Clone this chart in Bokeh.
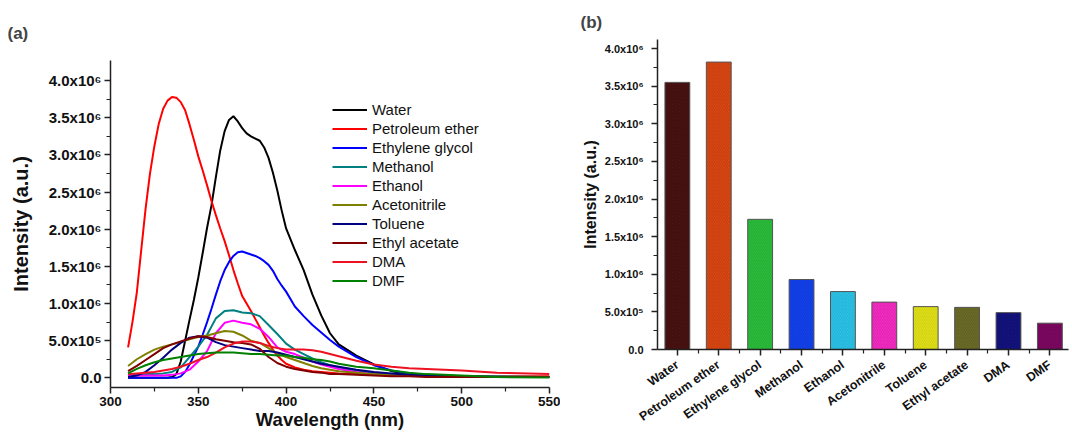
from bokeh.plotting import figure
from bokeh.layouts import row, column
from bokeh.models import FixedTicker, Legend, Spacer
from bokeh.embed import file_html
from bokeh.resources import INLINE

# ---------------- data: panel (a) emission spectra ----------------
# finely sampled wavelength grid (for the three strong spectra)
wavelength_fine = [310, 312.5, 315, 317.5, 320, 322.5, 325, 327.5, 330, 332.5, 335, 337.5, 340,
                   342.5, 345, 347.5, 350, 352.5, 355, 357.5, 360, 362.5, 365, 367.5, 370, 372.5,
                   375, 377.5, 380, 382.5, 385, 387.5, 390, 392.5, 395, 397.5, 400, 405, 410, 415,
                   420, 425, 430, 440, 450, 460, 470, 480, 500, 520, 550]
# coarser grid (for the weaker spectra)
wavelength = [310, 315, 320, 325, 330, 335, 340, 345, 350, 355, 360, 365, 370, 375, 380,
              385, 390, 395, 400, 405, 410, 415, 420, 425, 430, 440, 450, 460, 470, 480,
              500, 520, 550]

water = [0, 0, 0, 0, 0, 0, 0, 0, 0, 0, 0.01, 0.05, 0.22,
         0.50, 0.78, 1.05, 1.35, 1.68, 2.02, 2.32, 2.70, 3.06, 3.32, 3.47, 3.52, 3.45,
         3.36, 3.29, 3.25, 3.22, 3.19, 3.10, 2.96, 2.76, 2.52, 2.25, 2.01, 1.72, 1.45, 1.12,
         0.84, 0.60, 0.45, 0.30, 0.18, 0.09, 0.05, 0.03, 0.015, 0.01, 0.01]
petroleum_ether = [0.41, 0.75, 1.15, 1.72, 2.28, 2.75, 3.12, 3.42, 3.62, 3.73, 3.78, 3.77, 3.71,
                   3.60, 3.41, 3.20, 2.98, 2.79, 2.59, 2.38, 2.19, 2.01, 1.84, 1.65, 1.45, 1.27,
                   1.10, 1.00, 0.90, 0.79, 0.68, 0.57, 0.47, 0.38, 0.30, 0.24, 0.19, 0.14, 0.11, 0.09,
                   0.08, 0.07, 0.06, 0.05, 0.04, 0.035, 0.03, 0.03, 0.02, 0.02, 0.02]
ethylene_glycol = [0, 0, 0, 0, 0, 0, 0, 0, 0, 0, 0, 0, 0.02,
                   0.08, 0.18, 0.30, 0.42, 0.58, 0.75, 0.93, 1.12, 1.30, 1.45, 1.56, 1.64, 1.69,
                   1.70, 1.68, 1.66, 1.64, 1.61, 1.57, 1.52, 1.44, 1.33, 1.24, 1.16, 0.96, 0.83, 0.71,
                   0.61, 0.51, 0.42, 0.28, 0.17, 0.10, 0.06, 0.04, 0.02, 0.01, 0.01]
methanol = [0.03, 0.04, 0.05, 0.05, 0.06, 0.08, 0.14, 0.28, 0.42, 0.58, 0.80, 0.90, 0.91, 0.88, 0.87,
            0.83, 0.71, 0.59, 0.46, 0.38, 0.32, 0.26, 0.21, 0.17, 0.14, 0.10, 0.07, 0.05, 0.04, 0.03,
            0.02, 0.02, 0.01]
ethanol = [0.03, 0.03, 0.03, 0.03, 0.03, 0.04, 0.06, 0.11, 0.22, 0.36, 0.60, 0.74, 0.77, 0.74, 0.72,
           0.66, 0.55, 0.41, 0.35, 0.32, 0.27, 0.22, 0.18, 0.15, 0.12, 0.08, 0.05, 0.04, 0.03, 0.02,
           0.02, 0.01, 0.01]
acetonitrile = [0.16, 0.25, 0.32, 0.38, 0.42, 0.45, 0.48, 0.52, 0.55, 0.57, 0.60, 0.63, 0.62, 0.57, 0.50,
                0.47, 0.40, 0.33, 0.28, 0.24, 0.20, 0.16, 0.13, 0.11, 0.09, 0.07, 0.05, 0.04, 0.03, 0.02,
                0.02, 0.01, 0.01]
toluene = [0.01, 0.03, 0.08, 0.17, 0.27, 0.38, 0.47, 0.54, 0.56, 0.54, 0.48, 0.44, 0.42, 0.40, 0.38,
           0.36, 0.36, 0.34, 0.31, 0.28, 0.25, 0.22, 0.19, 0.17, 0.15, 0.11, 0.08, 0.06, 0.04, 0.03,
           0.02, 0.01, 0.01]
ethyl_acetate = [0.09, 0.16, 0.24, 0.32, 0.40, 0.45, 0.49, 0.53, 0.56, 0.55, 0.52, 0.50, 0.48, 0.47, 0.45,
                 0.39, 0.28, 0.20, 0.15, 0.12, 0.10, 0.08, 0.07, 0.05, 0.05, 0.04, 0.03, 0.02, 0.02, 0.01,
                 0.01, 0.01, 0.01]
dma = [0.05, 0.06, 0.07, 0.08, 0.10, 0.12, 0.15, 0.19, 0.24, 0.28, 0.34, 0.41, 0.46, 0.49, 0.49,
       0.47, 0.43, 0.40, 0.38, 0.38, 0.38, 0.37, 0.35, 0.32, 0.29, 0.23, 0.18, 0.15, 0.13, 0.12,
       0.10, 0.07, 0.05]
dmf = [0.06, 0.12, 0.17, 0.21, 0.24, 0.26, 0.28, 0.30, 0.32, 0.33, 0.34, 0.34, 0.34, 0.33, 0.32,
       0.32, 0.31, 0.30, 0.30, 0.28, 0.27, 0.25, 0.24, 0.22, 0.19, 0.15, 0.13, 0.10, 0.07, 0.05,
       0.03, 0.01, 0.005]
intensity_unit = 1e6

series_names = ["Water", "Petroleum ether", "Ethylene glycol", "Methanol", "Ethanol",
                "Acetonitrile", "Toluene", "Ethyl acetate", "DMA", "DMF"]
series_values = [water, petroleum_ether, ethylene_glycol, methanol, ethanol,
                 acetonitrile, toluene, ethyl_acetate, dma, dmf]
series_x = [wavelength_fine, wavelength_fine, wavelength_fine] + [wavelength] * 7
line_colors = ["#000000", "#ff0000", "#0000ff", "#008080", "#ff00ff",
               "#808000", "#000080", "#800000", "#ee1122", "#008000"]

# ---------------- data: panel (b) peak intensities ----------------
solvents = ["Water", "Petroleum ether", "Ethylene glycol", "Methanol", "Ethanol",
            "Acetonitrile", "Toluene", "Ethyl acetate", "DMA", "DMF"]
peak_intensity = [3.55e6, 3.82e6, 1.73e6, 0.93e6, 0.77e6, 0.63e6, 0.57e6, 0.56e6, 0.49e6, 0.35e6]
bar_colors = ["#5a1818", "#e8501a", "#33cc44", "#1a4cff", "#33ccf0",
              "#ff3ccf", "#f0f020", "#7a7a30", "#1a1a8c", "#8a0a6a"]
hatch_colors = ["#1a0000", "#a02800", "#118822", "#0022aa", "#1199bb",
                "#c00090", "#a8a800", "#3e3e10", "#000050", "#500040"]

# ---------------- tick labels ----------------
y_tick_values = [0, 500000, 1000000, 1500000, 2000000, 2500000, 3000000, 3500000, 4000000]
y_tick_labels = ["0.0", "5.0x10\u2075", "1.0x10\u2076", "1.5x10\u2076", "2.0x10\u2076",
                 "2.5x10\u2076", "3.0x10\u2076", "3.5x10\u2076", "4.0x10\u2076"]
y_minor_values = [250000, 750000, 1250000, 1750000, 2250000, 2750000, 3250000, 3750000]
x_tick_values = [300, 350, 400, 450, 500, 550]
x_minor_values = [325, 375, 425, 475, 525]

FONT = "Liberation Sans"


def style_axes(p, tick_size, out_len):
    for ax in (p.xaxis[0], p.yaxis[0]):
        ax.axis_line_width = 1.5
        ax.axis_line_color = "#222222"
        ax.major_tick_line_width = 1.5
        ax.minor_tick_line_width = 1.2
        ax.major_tick_line_color = "#222222"
        ax.minor_tick_line_color = "#222222"
        ax.major_tick_in = 0
        ax.major_tick_out = out_len
        ax.minor_tick_in = 0
        ax.minor_tick_out = max(2, out_len - 2)
        ax.major_label_text_font = FONT
        ax.major_label_text_font_style = "bold"
        ax.major_label_text_font_size = tick_size
        ax.major_label_text_color = "#111111"
        ax.axis_label_text_font = FONT
        ax.axis_label_text_font_style = "bold"
        ax.axis_label_text_color = "#111111"
    p.xgrid.visible = False
    p.ygrid.visible = False
    p.outline_line_color = None


# ---------------- panel (a) ----------------
p1 = figure(width=560, height=432, x_range=(300, 550), y_range=(-0.13e6, 4.27e6),
            output_backend="svg", toolbar_location=None,
            min_border_left=110, min_border_right=11, min_border_top=60, min_border_bottom=42)

items = []
for name, xs, vals, col in zip(series_names, series_x, series_values, line_colors):
    r = p1.line(xs, [v * intensity_unit for v in vals], line_color=col, line_width=2)
    items.append((name, [r]))

legend = Legend(items=items, location=(222, 97), border_line_color=None,
                background_fill_alpha=0, padding=0, margin=0, spacing=0,
                glyph_width=35, glyph_height=19, label_height=19, label_standoff=5,
                label_text_font=FONT, label_text_font_size="15px", label_text_color="#111111")
p1.add_layout(legend, "center")

style_axes(p1, "15px", 6)
p1.yaxis.ticker = FixedTicker(ticks=y_tick_values, minor_ticks=y_minor_values)
p1.yaxis.major_label_overrides = dict(zip(y_tick_values, y_tick_labels))
p1.xaxis.ticker = FixedTicker(ticks=x_tick_values, minor_ticks=x_minor_values)
p1.xaxis.major_label_text_font_size = "13.5px"
p1.yaxis.axis_label = "Intensity (a.u.)"
p1.xaxis.axis_label = "Wavelength (nm)"
p1.yaxis.axis_label_text_font_size = "20px"
p1.xaxis.axis_label_text_font_size = "18.5px"
p1.xaxis.axis_label_standoff = 0
p1.yaxis.axis_label_standoff = 14
p1.xaxis.major_label_standoff = 3
p1.yaxis.major_label_standoff = 3

p1.title.text = "(a)"
p1.title.text_font = FONT
p1.title.text_font_style = "bold"
p1.title.text_font_size = "17px"
p1.title.align = "left"
p1.title.vertical_align = "top"
p1.title.offset = -103
p1.title.standoff = 32

# ---------------- panel (b) ----------------
positions = list(range(1, len(solvents) + 1))
p2 = figure(width=510, height=432, x_range=(0.52, 10.45), y_range=(0, 4.12e6),
            output_backend="svg", toolbar_location=None,
            min_border_left=97, min_border_right=2, min_border_top=39, min_border_bottom=82)
p2.vbar(x=positions, top=peak_intensity, width=0.6, bottom=0,
        fill_color=bar_colors, line_color="#555555", line_width=1,
        hatch_pattern="\\", hatch_color=hatch_colors, hatch_alpha=0.5,
        hatch_scale=3.5, hatch_weight=1.1)

style_axes(p2, "11px", 6)
p2.yaxis.ticker = FixedTicker(ticks=y_tick_values, minor_ticks=y_minor_values)
p2.yaxis.major_label_overrides = dict(zip(y_tick_values, y_tick_labels))
p2.xaxis.ticker = FixedTicker(ticks=positions, minor_ticks=[p + 0.5 for p in [0] + positions])
p2.xaxis.major_label_overrides = dict(zip(positions, solvents))
p2.xaxis.major_label_orientation = 0.61
p2.xaxis.major_label_text_font_size = "12.5px"
p2.xaxis.major_label_standoff = 8
p2.yaxis.axis_label = "Intensity (a.u.)"
p2.yaxis.axis_label_text_font_size = "16px"
p2.yaxis.axis_label_standoff = 3
p2.yaxis.major_label_standoff = 8

p2.title.text = "(b)"
p2.title.text_font = FONT
p2.title.text_font_style = "bold"
p2.title.text_font_size = "17px"
p2.title.align = "left"
p2.title.offset = -77
p2.title.standoff = 15

layout = row(column(Spacer(width=560, height=0), p1), column(Spacer(width=510, height=0), p2))
open("out.html", "w").write(file_html(layout, INLINE))
